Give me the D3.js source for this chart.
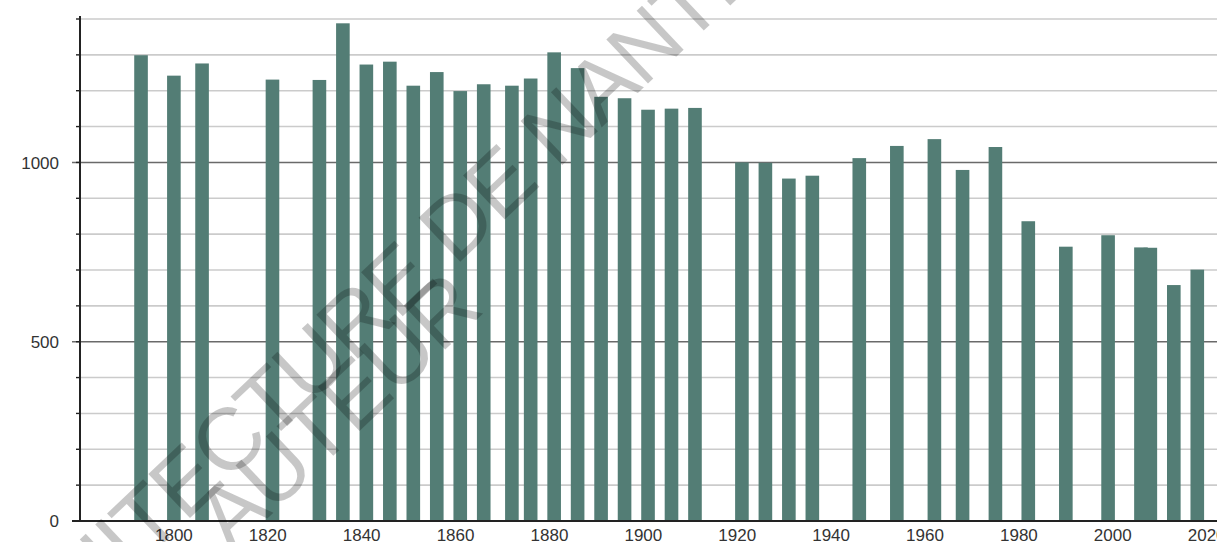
<!DOCTYPE html>
<html>
<head>
<meta charset="utf-8">
<script src="https://cdn.jsdelivr.net/npm/d3@7"></script>
<style>
  body { margin: 0; background: #fff; }
  svg { display: block; }
  text { font-family: "Liberation Sans", Arial, Helvetica, sans-serif; }
</style>
</head>
<body>
<div id="chart"></div>
<script>
// census years and population counts
var years = [1793, 1800, 1806, 1821, 1831, 1836, 1841, 1846, 1851, 1856, 1861, 1866,
             1872, 1876, 1881, 1886, 1891, 1896, 1901, 1906, 1911, 1921, 1926, 1931,
             1936, 1946, 1954, 1962, 1968, 1975, 1982, 1990, 1999, 2006, 2008, 2013, 2018];
var population = [1299, 1242, 1276, 1231, 1230, 1388, 1273, 1281, 1214, 1252, 1199, 1218,
                  1214, 1234, 1307, 1263, 1183, 1179, 1147, 1150, 1152, 1000, 999, 955,
                  963, 1012, 1046, 1065, 979, 1043, 836, 765, 797, 763, 762, 658, 701];
var xTicks = [1800, 1820, 1840, 1860, 1880, 1900, 1920, 1940, 1960, 1980, 2000, 2020];
var yTicks = [0, 500, 1000];
var yGrid = [100, 200, 300, 400, 500, 600, 700, 800, 900, 1000, 1100, 1200, 1300, 1400];
var watermark = ["ARCHITECTURE DE NANTES", "AUTEUR"];

var data = years.map(function(y, i) { return {year: y, pop: population[i]}; });

// dimensions
var margin = {top: 19, right: 0, bottom: 21, left: 80},
    width = 1217 - margin.left - margin.right,
    height = 542 - margin.top - margin.bottom;

var x = d3.scaleLinear().domain([1780, 2022.2]).range([0, width]);
var y = d3.scaleLinear().domain([0, 1400]).range([height, 0]);
var barW = x(1782.9) - x(1780);

var root = d3.select("#chart").append("svg")
    .attr("width", 1217)
    .attr("height", 542);

var svg = root.append("g")
    .attr("transform", "translate(" + margin.left + "," + margin.top + ")");

// horizontal grid
svg.selectAll(".grid")
    .data(yGrid)
    .enter().append("line")
    .attr("class", "grid")
    .attr("x1", function(d) { return d % 500 === 0 ? -8 : 0; })
    .attr("x2", width)
    .attr("y1", function(d) { return y(d); })
    .attr("y2", function(d) { return y(d); })
    .style("stroke", function(d) { return d % 500 === 0 ? "#6a6a6a" : "#cbcbcb"; })
    .style("stroke-width", 1.6);

// small ticks on the left axis
svg.selectAll(".ytick")
    .data(yGrid)
    .enter().append("line")
    .attr("x1", -4)
    .attr("x2", 0)
    .attr("y1", function(d) { return y(d); })
    .attr("y2", function(d) { return y(d); })
    .style("stroke", "#222")
    .style("stroke-width", 1.4);

// bars
svg.selectAll(".bar")
    .data(data)
    .enter().append("rect")
    .attr("class", "bar")
    .attr("x", function(d) { return x(d.year) - barW / 2; })
    .attr("width", barW)
    .attr("y", function(d) { return y(d.pop); })
    .attr("height", function(d) { return height - y(d.pop); })
    .style("fill", "#537d75");

// axis lines
svg.append("line")
    .attr("x1", 0).attr("x2", 0)
    .attr("y1", y(1400) - 3).attr("y2", height)
    .style("stroke", "#222")
    .style("stroke-width", 2);

svg.append("line")
    .attr("x1", -8).attr("x2", width)
    .attr("y1", height).attr("y2", height)
    .style("stroke", "#222")
    .style("stroke-width", 2);

// tick labels
svg.selectAll(".ylab")
    .data(yTicks)
    .enter().append("text")
    .attr("x", -21)
    .attr("y", function(d) { return y(d); })
    .attr("dy", "0.36em")
    .attr("text-anchor", "end")
    .style("font-size", "17px")
    .style("fill", "#333")
    .text(function(d) { return d; });

svg.selectAll(".xlab")
    .data(xTicks)
    .enter().append("text")
    .attr("x", function(d) { return x(d); })
    .attr("y", height + 20)
    .attr("text-anchor", "middle")
    .style("font-size", "17px")
    .style("fill", "#333")
    .text(function(d) { return d; });

// watermark on top of everything
function stamp(txt, skipChars, px, py) {
    var t = root.append("text")
        .style("font-size", "88px")
        .style("letter-spacing", "-2px")
        .style("fill", "#000")
        .style("fill-opacity", 0.22)
        .text(txt);
    var skip = skipChars ? t.node().getSubStringLength(0, skipChars) : 0;
    t.attr("x", -skip)
        .attr("transform", "translate(" + px + "," + py + ") rotate(-43.5)");
}
stamp(watermark[0], 7, 226, 484);
stamp(watermark[1], 0, 231, 553);
</script>
</body>
</html>
